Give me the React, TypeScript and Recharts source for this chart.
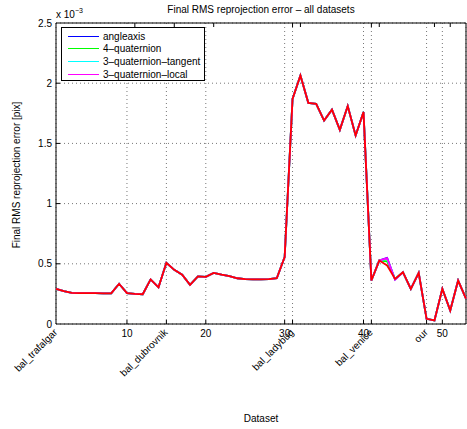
import React from "react";
import {
  LineChart,
  Line,
  XAxis,
  YAxis,
  CartesianGrid,
  ReferenceArea,
} from "recharts";

// dataset index 1..53, error values in units of 1e-3 pix
const datasetIndex = [
  1, 2, 3, 4, 5, 6, 7, 8, 9, 10, 11, 12, 13, 14, 15, 16, 17, 18, 19, 20, 21,
  22, 23, 24, 25, 26, 27, 28, 29, 30, 31, 32, 33, 34, 35, 36, 37, 38, 39, 40,
  41, 42, 43, 44, 45, 46, 47, 48, 49, 50, 51, 52, 53,
];

const angleaxis = [
  0.292, 0.273, 0.259, 0.257, 0.256, 0.256, 0.255, 0.255, 0.334, 0.256, 0.25,
  0.247, 0.37, 0.305, 0.508, 0.45, 0.41, 0.325, 0.395, 0.392, 0.425, 0.41,
  0.397, 0.38, 0.372, 0.37, 0.37, 0.372, 0.38, 0.555, 1.87, 2.064, 1.837,
  1.829, 1.69, 1.78, 1.613, 1.81, 1.566, 1.76, 0.361, 0.527, 0.55, 0.37, 0.43,
  0.292, 0.425, 0.043, 0.03, 0.292, 0.112, 0.361, 0.21,
];
const quat4 = [
  0.292, 0.273, 0.259, 0.257, 0.256, 0.256, 0.255, 0.255, 0.334, 0.256, 0.25,
  0.247, 0.37, 0.305, 0.508, 0.45, 0.41, 0.325, 0.395, 0.392, 0.425, 0.41,
  0.397, 0.38, 0.372, 0.37, 0.37, 0.372, 0.38, 0.555, 1.87, 2.064, 1.837,
  1.829, 1.69, 1.78, 1.613, 1.81, 1.566, 1.76, 0.361, 0.527, 0.52, 0.375, 0.43,
  0.292, 0.425, 0.043, 0.03, 0.292, 0.112, 0.361, 0.21,
];
const quat3Tangent = [
  0.292, 0.273, 0.259, 0.257, 0.256, 0.256, 0.255, 0.255, 0.334, 0.256, 0.25,
  0.247, 0.37, 0.305, 0.508, 0.45, 0.41, 0.325, 0.395, 0.392, 0.425, 0.41,
  0.397, 0.38, 0.372, 0.37, 0.37, 0.372, 0.38, 0.555, 1.87, 2.064, 1.837,
  1.829, 1.69, 1.78, 1.613, 1.81, 1.566, 1.76, 0.361, 0.527, 0.54, 0.372, 0.43,
  0.292, 0.425, 0.043, 0.03, 0.292, 0.112, 0.361, 0.21,
];
const quat3Local = [
  0.292, 0.273, 0.259, 0.257, 0.256, 0.256, 0.255, 0.255, 0.334, 0.256, 0.25,
  0.247, 0.37, 0.305, 0.508, 0.45, 0.41, 0.325, 0.395, 0.392, 0.425, 0.41,
  0.397, 0.38, 0.372, 0.37, 0.37, 0.372, 0.38, 0.555, 1.87, 2.064, 1.837,
  1.829, 1.69, 1.78, 1.613, 1.81, 1.566, 1.76, 0.361, 0.527, 0.547, 0.368,
  0.43, 0.292, 0.425, 0.043, 0.03, 0.292, 0.112, 0.361, 0.21,
];
const reference = [
  0.292, 0.273, 0.259, 0.257, 0.256, 0.256, 0.255, 0.255, 0.334, 0.256, 0.25,
  0.247, 0.37, 0.305, 0.508, 0.45, 0.41, 0.325, 0.395, 0.392, 0.425, 0.41,
  0.397, 0.38, 0.372, 0.37, 0.37, 0.372, 0.38, 0.555, 1.87, 2.064, 1.837,
  1.829, 1.69, 1.78, 1.613, 1.81, 1.566, 1.76, 0.361, 0.527, 0.486, 0.375,
  0.43, 0.292, 0.425, 0.043, 0.03, 0.292, 0.112, 0.361, 0.21,
];

const seriesNames = [
  "angleaxis",
  "4\u2013quaternion",
  "3\u2013quaternion\u2013tangent",
  "3\u2013quaternion\u2013local",
];
const seriesColors = ["#0000ff", "#00ff00", "#00ffff", "#ff00ff"];

const numberTicks = [10, 20, 30, 40, 50];
const datasetStarts = [1, 15, 31, 41, 48];
const datasetLabels = [
  "bal_trafalgar",
  "bal_dubrovnik",
  "bal_ladybug",
  "bal_venice",
  "our",
];
const xTicks = [1, 10, 15, 20, 30, 31, 40, 41, 48, 50];
const yTicks = [0, 0.5, 1, 1.5, 2, 2.5];

const data = datasetIndex.map((idx, i) => ({
  idx,
  angleaxis: angleaxis[i],
  quat4: quat4[i],
  quat3Tangent: quat3Tangent[i],
  quat3Local: quat3Local[i],
  reference: reference[i],
}));

const FONT = "'Liberation Sans', Arial, Helvetica, sans-serif";

// bottom axis: inward tick marks, numbers, and rotated dataset names
const renderBottomTick = (props: any) => {
  const { x, y, payload } = props;
  const v = payload.value;
  const li = datasetStarts.indexOf(v);
  return (
    <g key={`b-${v}`}>
      {v > 1 && <line x1={x} x2={x} y1={y} y2={y - 4} stroke="#000" />}
      {numberTicks.includes(v) && (
        <text x={x} y={y + 13} textAnchor="middle" fontSize={10} fill="#000" fontFamily={FONT}>
          {v}
        </text>
      )}
      {li >= 0 && (
        <text
          x={x + 2}
          y={y + 9}
          textAnchor="end"
          fontSize={10}
          fill="#000"
          fontFamily={FONT}
          transform={`rotate(-45 ${x + 2} ${y + 9})`}
        >
          {datasetLabels[li]}
        </text>
      )}
    </g>
  );
};

const renderTopTick = (props: any) => {
  const { x, y, payload } = props;
  if (payload.value <= 1) return <g key={`t-${payload.value}`} />;
  return <line key={`t-${payload.value}`} x1={x} x2={x} y1={y} y2={y + 4} stroke="#000" />;
};

const renderLeftTick = (props: any) => {
  const { x, y, payload } = props;
  const v = payload.value;
  return (
    <g key={`l-${v}`}>
      {v > 0 && v < 2.5 && <line x1={x} x2={x + 4} y1={y} y2={y} stroke="#000" />}
      <text x={x - 4} y={y + 3.5} textAnchor="end" fontSize={10} fill="#000" fontFamily={FONT}>
        {v}
      </text>
    </g>
  );
};

const renderRightTick = (props: any) => {
  const { x, y, payload } = props;
  const v = payload.value;
  if (v <= 0 || v >= 2.5) return <g key={`r-${v}`} />;
  return <line key={`r-${v}`} x1={x} x2={x - 4} y1={y} y2={y} stroke="#000" />;
};

export default function App() {
  return (
    <div
      style={{
        position: "absolute",
        left: 0,
        top: 0,
        width: 467,
        height: 429,
        background: "#fff",
        fontFamily: FONT,
        color: "#000",
      }}
    >
      <LineChart
        width={467}
        height={429}
        data={data}
        margin={{ top: 22, right: 0, bottom: 75, left: 26 }}
      >
        <CartesianGrid stroke="#777" strokeDasharray="1 3" fill="none" />
        <XAxis
          dataKey="idx"
          type="number"
          domain={[1, 53]}
          ticks={xTicks}
          interval={0}
          height={30}
          tickSize={0}
          tickMargin={0}
          axisLine={false}
          tickLine={false}
          tick={renderBottomTick}
        />
        <XAxis
          xAxisId="top"
          orientation="top"
          type="number"
          domain={[1, 53]}
          ticks={xTicks}
          interval={0}
          height={1}
          tickSize={0}
          tickMargin={0}
          axisLine={false}
          tickLine={false}
          tick={renderTopTick}
        />
        <YAxis
          type="number"
          domain={[0, 2.5]}
          ticks={yTicks}
          interval={0}
          width={30}
          tickSize={0}
          tickMargin={0}
          axisLine={false}
          tickLine={false}
          tick={renderLeftTick}
        />
        <YAxis
          yAxisId="right"
          orientation="right"
          type="number"
          domain={[0, 2.5]}
          ticks={yTicks}
          interval={0}
          width={1}
          tickSize={0}
          tickMargin={0}
          axisLine={false}
          tickLine={false}
          tick={renderRightTick}
        />
        <ReferenceArea
          x1={1}
          x2={53}
          y1={0}
          y2={2.5}
          fill="none"
          stroke="#000"
          strokeWidth={1}
          ifOverflow="visible"
        />
        <Line dataKey="angleaxis" stroke="#0000ff" strokeWidth={1.8} dot={false} isAnimationActive={false} />
        <Line dataKey="quat4" stroke="#00ff00" strokeWidth={1.8} dot={false} isAnimationActive={false} />
        <Line dataKey="quat3Tangent" stroke="#00ffff" strokeWidth={1.8} dot={false} isAnimationActive={false} />
        <Line dataKey="quat3Local" stroke="#ff00ff" strokeWidth={1.8} dot={false} isAnimationActive={false} />
        <Line dataKey="reference" stroke="#ff0000" strokeWidth={1.8} dot={false} isAnimationActive={false} />
      </LineChart>

      {/* title, exponent and axis labels */}
      <div style={{ position: "absolute", left: 0, width: 522, top: 4, textAlign: "center", fontSize: 10 }}>
        Final RMS reprojection error – all datasets
      </div>
      <div style={{ position: "absolute", left: 56, top: 8, fontSize: 10 }}>
        x 10<sup style={{ fontSize: 7, position: "relative", top: -1 }}>−3</sup>
      </div>
      <div
        style={{
          position: "absolute",
          left: 16,
          top: 175,
          fontSize: 10,
          whiteSpace: "nowrap",
          transform: "translate(-50%, -50%) rotate(-90deg)",
        }}
      >
        Final RMS reprojection error [pix]
      </div>
      <div style={{ position: "absolute", left: 0, width: 522, top: 413, textAlign: "center", fontSize: 10 }}>
        Dataset
      </div>

      {/* legend */}
      <div
        style={{
          position: "absolute",
          left: 61,
          top: 27,
          width: 142,
          height: 52,
          border: "1px solid #000",
          background: "#fff",
          fontSize: 10,
        }}
      >
        {seriesNames.map((name, i) => (
          <div key={name} style={{ position: "absolute", left: 6, top: 2 + i * 12.7, height: 12, display: "flex", alignItems: "center" }}>
            <span style={{ display: "inline-block", width: 31, height: 0, borderTop: `1.5px solid ${seriesColors[i]}`, marginRight: 4 }} />
            <span style={{ whiteSpace: "nowrap" }}>{name}</span>
          </div>
        ))}
      </div>
    </div>
  );
}
